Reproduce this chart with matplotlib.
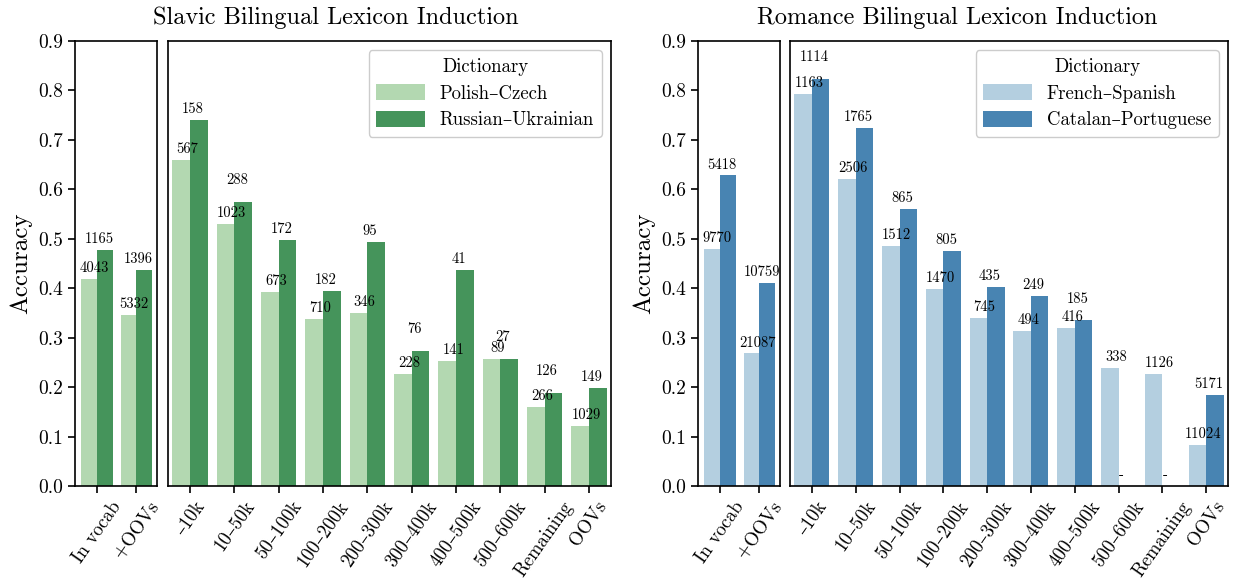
import numpy as np
import matplotlib
matplotlib.use("Agg")
import matplotlib.pyplot as plt

plt.rcParams["font.family"] = ["cmr10", "DejaVu Serif"]
plt.rcParams["mathtext.fontset"] = "cm"
plt.rcParams["axes.formatter.use_mathtext"] = True
plt.rcParams["axes.unicode_minus"] = False

summary_cats = ["In vocab", "+OOVs"]
freq_bins = ["–10k", "10–50k", "50–100k", "100–200k", "200–300k",
             "300–400k", "400–500k", "500–600k", "Remaining", "OOVs"]

# Slavic
pl_cs_acc_sum = [0.419, 0.346]
ru_uk_acc_sum = [0.478, 0.437]
pl_cs_n_sum = [4043, 5332]
ru_uk_n_sum = [1165, 1396]
pl_cs_acc = [0.660, 0.530, 0.393, 0.338, 0.350, 0.227, 0.253, 0.257, 0.160, 0.121]
ru_uk_acc = [0.741, 0.575, 0.498, 0.395, 0.494, 0.273, 0.437, 0.257, 0.188, 0.198]
pl_cs_n = [567, 1023, 673, 710, 346, 228, 141, 89, 266, 1029]
ru_uk_n = [158, 288, 172, 182, 95, 76, 41, 27, 126, 149]

# Romance
fr_es_acc_sum = [0.479, 0.268]
ca_pt_acc_sum = [0.628, 0.411]
fr_es_n_sum = [9770, 21087]
ca_pt_n_sum = [5418, 10759]
fr_es_acc = [0.793, 0.620, 0.485, 0.399, 0.339, 0.313, 0.319, 0.238, 0.226, 0.083]
ca_pt_acc = [0.824, 0.725, 0.560, 0.476, 0.403, 0.385, 0.335, None, None, 0.184]
fr_es_n = [1163, 2506, 1512, 1470, 745, 494, 416, 338, 1126, 11024]
ca_pt_n = [1114, 1765, 865, 805, 435, 249, 185, None, None, 5171]

W, H = 1233, 581
fig = plt.figure(figsize=(W / 100, H / 100), dpi=100)


def px_axes(x0, x1, y0=41, y1=486):
    return fig.add_axes([x0 / W, 1 - y1 / H, (x1 - x0) / W, (y1 - y0) / H])


def draw(ax, cats, acc1, acc2, n1, n2, c1, c2, lab1, lab2, xlim):
    x = np.arange(len(cats))
    w = 0.4
    a1 = np.array([np.nan if v is None else v for v in acc1], float)
    a2 = np.array([np.nan if v is None else v for v in acc2], float)
    ax.bar(x - w / 2, np.nan_to_num(a1), w, color=c1, label=lab1)
    ax.bar(x + w / 2, np.nan_to_num(a2), w, color=c2, label=lab2)
    for i in range(len(cats)):
        h1 = 0 if np.isnan(a1[i]) else a1[i]
        h2 = 0 if np.isnan(a2[i]) else a2[i]
        ax.text(x[i] - 0.06, h1 + 0.008, str(n1[i]) if n1[i] else "-",
                ha="center", va="bottom", fontsize=10.5)
        bump = 0.022 if (0 <= h2 - h1 < 0.05) else 0.0
        ax.text(x[i] + 0.06, h2 + 0.008 + bump, str(n2[i]) if n2[i] else "-",
                ha="center", va="bottom", fontsize=10.5)
    ax.set_xticks(x)
    ax.set_xticklabels(cats, rotation=55, ha="center", fontsize=13.5)
    ax.set_xlim(*xlim)
    ax.set_ylim(0, 0.9)
    for s in ax.spines.values():
        s.set_linewidth(1.2)
    ax.tick_params(axis="x", length=5, width=1.2)


groups = [
    (75, 157, 168, 611, 336, "Slavic Bilingual Lexicon Induction",
     pl_cs_acc_sum, ru_uk_acc_sum, pl_cs_n_sum, ru_uk_n_sum,
     pl_cs_acc, ru_uk_acc, pl_cs_n, ru_uk_n,
     "#b3d8b1", "#45945b", "Polish–Czech", "Russian–Ukrainian"),
    (698, 780, 790, 1228, 957, "Romance Bilingual Lexicon Induction",
     fr_es_acc_sum, ca_pt_acc_sum, fr_es_n_sum, ca_pt_n_sum,
     fr_es_acc, ca_pt_acc, fr_es_n, ca_pt_n,
     "#b4cfe0", "#4884b2", "French–Spanish", "Catalan–Portuguese"),
]

for (s0, s1, b0, b1, tx, title, as1, as2, ns1, ns2,
     a1, a2, n1, n2, c1, c2, l1, l2) in groups:
    ax_s = px_axes(s0, s1)
    ax_b = px_axes(b0, b1)
    draw(ax_s, summary_cats, as1, as2, ns1, ns2, c1, c2, l1, l2, (-0.55, 1.52))
    draw(ax_b, freq_bins, a1, a2, n1, n2, c1, c2, l1, l2, (-0.5, 9.5))
    ax_s.set_yticks(np.arange(0, 0.91, 0.1))
    ax_s.set_yticklabels([f"{v:.1f}" for v in np.arange(0, 0.91, 0.1)], fontsize=14)
    ax_s.tick_params(axis="y", length=5, width=1.2)
    ax_s.set_ylabel("Accuracy", fontsize=18, labelpad=4)
    ax_b.set_yticks([])
    leg = ax_b.legend(title="Dictionary", loc="upper right", fontsize=13.5,
                      title_fontsize=13.5, handlelength=2.6, handleheight=0.9,
                      handletextpad=0.8, borderpad=0.4, labelspacing=0.45,
                      fancybox=True, framealpha=1.0, edgecolor="#cccccc")
    fig.text(tx / W, 1 - 18 / H, title, ha="center", va="center", fontsize=17.5)

fig.savefig("out.png", dpi=100)
